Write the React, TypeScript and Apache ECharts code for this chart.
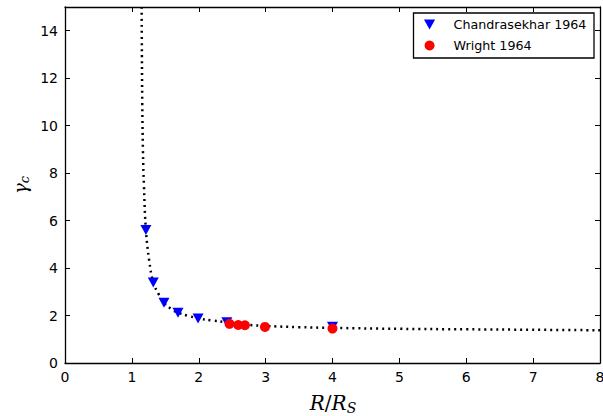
import React, { useEffect, useRef } from "react";
import * as echarts from "echarts";

// Theoretical curve (dotted)
const curveX = [1.146, 1.15, 1.155, 1.165, 1.18, 1.21, 1.26, 1.32, 1.4, 1.48, 1.6, 1.69, 1.85, 2.0, 2.2, 2.42, 2.7, 3.0, 3.5, 4.0, 5.0, 6.0, 7.0, 8.0];
const curveY = [15, 13, 11, 9, 7.5, 5.6, 4.3, 3.4, 2.9, 2.54, 2.25, 2.12, 1.98, 1.88, 1.79, 1.72, 1.62, 1.56, 1.51, 1.48, 1.44, 1.42, 1.4, 1.38];

// Chandrasekhar 1964
const chandraX = [1.21, 1.32, 1.48, 1.69, 1.99, 2.42, 4.0];
const chandraY = [5.6, 3.39, 2.54, 2.12, 1.88, 1.72, 1.53];

// Wright 1964
const wrightX = [2.46, 2.59, 2.69, 2.99, 4.0];
const wrightY = [1.65, 1.6, 1.59, 1.52, 1.45];

const xTicks = [0, 1, 2, 3, 4, 5, 6, 7, 8];
const yTicks = [0, 2, 4, 6, 8, 10, 12, 14];

const seriesNames = ["Chandrasekhar 1964", "Wright 1964"];

const zip = (xs: number[], ys: number[]) => xs.map((x, i) => [x, ys[i]]);

const FONT = "DejaVu Sans";
const axisLine = { show: true, onZero: false, lineStyle: { color: "#000", width: 1.3 } };
const axisTick = { show: true, inside: true, length: 5, lineStyle: { color: "#000", width: 1 } };

export default function App() {
  const ref = useRef<HTMLDivElement>(null);
  useEffect(() => {
    if (!ref.current) return;
    const chart = echarts.init(ref.current, null, { renderer: "svg" });
    const xMin = xTicks[0];
    const xMax = xTicks[xTicks.length - 1];
    chart.setOption({
      animation: false,
      backgroundColor: "#fff",
      grid: { left: 65, right: 3, top: 7, bottom: 53, containLabel: false, outerBoundsMode: "none" },
      xAxis: [
        {
          type: "value", min: xMin, max: xMax, interval: 1, position: "bottom",
          axisLine, axisTick, splitLine: { show: false },
          axisLabel: { color: "#000", fontSize: 14, fontFamily: FONT, margin: 7 },
        },
        {
          type: "value", min: xMin, max: xMax, interval: 1, position: "top",
          axisLine, axisTick, splitLine: { show: false }, axisLabel: { show: false },
        },
      ],
      yAxis: [
        {
          type: "value", min: 0, max: 15, interval: 2, position: "left",
          axisLine, axisTick, splitLine: { show: false },
          axisLabel: {
            color: "#000", fontSize: 14, fontFamily: FONT, margin: 7,
            formatter: (v: number) => (yTicks.includes(v) ? String(v) : ""),
          },
        },
        {
          type: "value", min: 0, max: 15, interval: 2, position: "right",
          axisLine, axisTick, splitLine: { show: false }, axisLabel: { show: false },
        },
      ],
      legend: {
        orient: "vertical",
        left: 424,
        top: 17,
        padding: 0,
        itemWidth: 38,
        itemHeight: 10,
        itemGap: 6,
        textStyle: { color: "#000", fontSize: 12.7, fontFamily: FONT, lineHeight: 15 },
        data: [
          { name: seriesNames[0], icon: "path://M0,0L10,0L5,9Z" },
          { name: seriesNames[1], icon: "circle" },
        ],
      },
      graphic: [
        {
          type: "rect",
          shape: { x: 413.5, y: 13, width: 180.5, height: 45 },
          style: { fill: "none", stroke: "#000", lineWidth: 1.3 },
          z: 10,
        },
        {
          type: "text",
          x: 20,
          y: 185,
          rotation: Math.PI / 2,
          style: {
            text: "{g|γ}{s|c}",
            align: "center",
            verticalAlign: "middle",
            rich: {
              g: { fontFamily: "DejaVu Serif", fontStyle: "italic", fontSize: 18, fill: "#000" },
              s: { fontFamily: "DejaVu Serif", fontStyle: "italic", fontSize: 13, fill: "#000", padding: [9, 0, 0, 0] },
            },
          },
        },
        {
          type: "text",
          x: 333,
          y: 403,
          style: {
            text: "{i|R}{n|/}{i|R}{s|S}",
            align: "center",
            verticalAlign: "middle",
            rich: {
              i: { fontFamily: "DejaVu Serif", fontStyle: "italic", fontSize: 20, fill: "#000" },
              n: { fontFamily: "DejaVu Serif", fontSize: 20, fill: "#000" },
              s: { fontFamily: "DejaVu Serif", fontStyle: "italic", fontSize: 14, fill: "#000", padding: [10, 0, 0, 0] },
            },
          },
        },
      ],
      series: [
        {
          type: "line",
          name: "theory",
          data: zip(curveX, curveY),
          smooth: 0.4,
          showSymbol: false,
          symbol: "none",
          clip: true,
          lineStyle: { color: "#000", width: 2.5, type: [2, 4] },
          z: 2,
        },
        {
          type: "scatter",
          name: seriesNames[0],
          data: zip(chandraX, chandraY),
          symbol: "path://M0,0L10,0L5,9Z",
          symbolSize: [11, 10],
          itemStyle: { color: "#0000ff", opacity: 1 },
          z: 3,
        },
        {
          type: "scatter",
          name: seriesNames[1],
          data: zip(wrightX, wrightY),
          symbol: "circle",
          symbolSize: 10,
          itemStyle: { color: "#ff0000", opacity: 1 },
          z: 4,
        },
      ],
    });
    return () => chart.dispose();
  }, []);
  return <div ref={ref} style={{ width: 603, height: 416, position: "absolute", left: 0, top: 0 }} />;
}
